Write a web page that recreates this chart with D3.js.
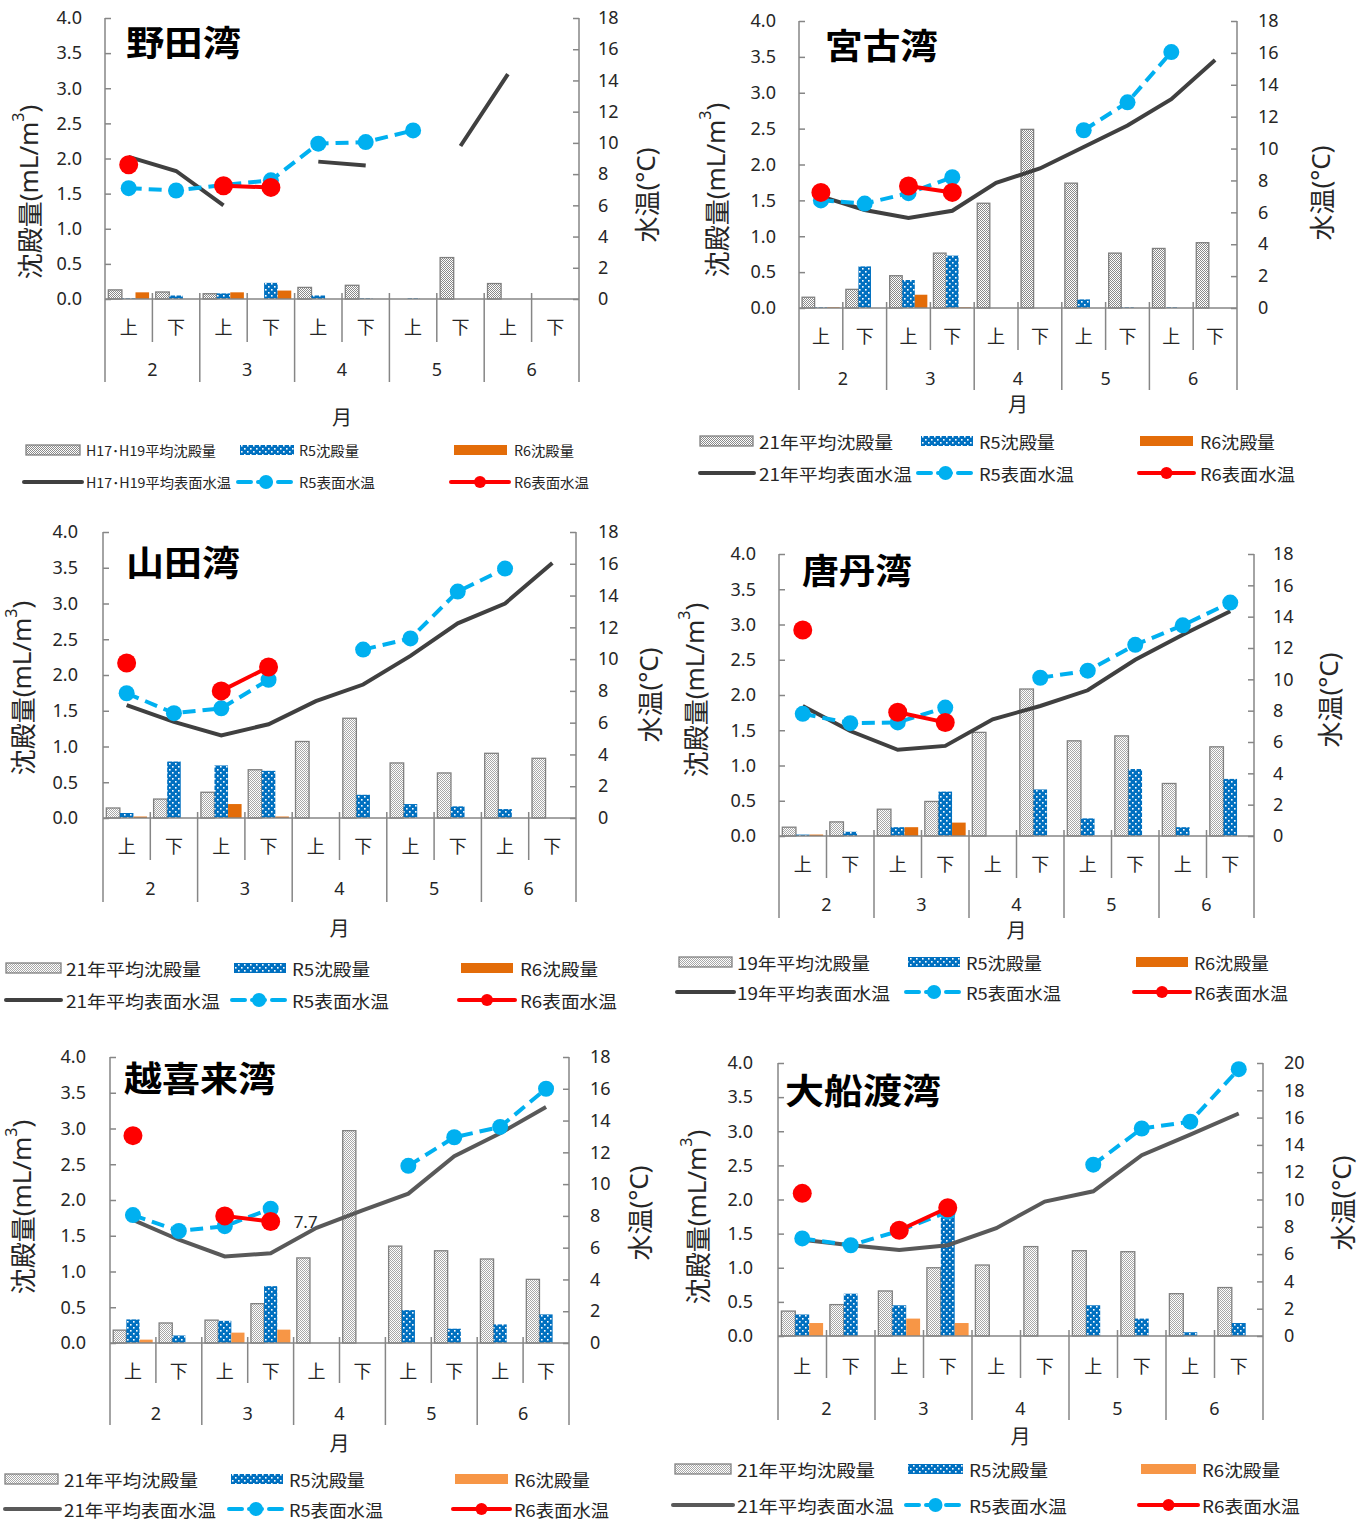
<!DOCTYPE html>
<html><head><meta charset="utf-8">
<script src="https://cdn.jsdelivr.net/npm/d3@7"></script>
<style>body{margin:0;background:#fff}svg{display:block}</style>
</head><body>
<svg id="c" width="1360" height="1521"></svg>
<script>
// ---------- categories & tick labels ----------
const halfLabels = ["上","下","上","下","上","下","上","下","上","下"];
const monthLabels = ["2","3","4","5","6"];
const leftTicks = [0,0.5,1.0,1.5,2.0,2.5,3.0,3.5,4.0];
const rightTicks18 = [0,2,4,6,8,10,12,14,16,18];
const rightTicks20 = [0,2,4,6,8,10,12,14,16,18,20];

// ---------- 野田湾 ----------
const nodaAvgSed = [0.13,0.10,0.075,0,0.165,0.195,0,0.59,0.22,0];
const nodaR5Sed  = [0.01,0.05,0.08,0.23,0.05,0.01,0.01,null,null,null];
const nodaR6Sed  = [0.095,0,0.095,0.12,null,null,null,null,null,null];
const nodaAvgTemp= [9.1,8.2,6.0,null,8.8,8.55,null,9.8,14.4,null];
const nodaR5Temp = [7.1,6.95,7.3,7.6,9.95,10.05,10.8,null,null,null];
const nodaR6Temp = [8.6,null,7.25,7.15,null,null,null,null,null,null];
const nodaLegend = ["H17･H19平均沈殿量","R5沈殿量","R6沈殿量","H17･H19平均表面水温","R5表面水温","R6表面水温"];

// ---------- 宮古湾 ----------
const miyakoAvgSed = [0.15,0.26,0.45,0.765,1.46,2.49,1.74,0.765,0.83,0.91];
const miyakoR5Sed  = [0.01,0.58,0.39,0.73,null,null,0.12,0.01,0.01,null];
const miyakoR6Sed  = [0.01,null,0.185,0.01,null,null,null,null,null,null];
const miyakoAvgTemp= [7.0,6.15,5.65,6.1,7.85,8.75,10.1,11.45,13.1,15.55];
const miyakoR5Temp = [6.75,6.55,7.2,8.2,null,null,11.15,12.9,16.05,null];
const miyakoR6Temp = [7.25,null,7.65,7.25,null,null,null,null,null,null];

// ---------- 山田湾 ----------
const yamadaAvgSed = [0.14,0.265,0.36,0.675,1.07,1.395,0.77,0.63,0.905,0.835];
const yamadaR5Sed  = [0.07,0.79,0.735,0.66,null,0.325,0.195,0.163,0.125,null];
const yamadaR6Sed  = [0.02,null,0.195,0.02,null,null,null,null,null,null];
const yamadaAvgTemp= [7.1,6.05,5.2,5.9,7.35,8.4,10.2,12.25,13.5,16.05];
const yamadaR5Temp = [7.85,6.6,6.9,8.7,null,10.6,11.3,14.25,15.7,null];
const yamadaR6Temp = [9.75,null,8.0,9.5,null,null,null,null,null,null];

// ---------- 唐丹湾 ----------
const toniAvgSed = [0.125,0.2,0.38,0.49,1.47,2.085,1.35,1.42,0.745,1.265];
const toniR5Sed  = [0.02,0.06,0.125,0.63,null,0.66,0.25,0.95,0.125,0.81];
const toniR6Sed  = [0.02,null,0.125,0.19,null,null,null,null,null,null];
const toniAvgTemp= [8.3,6.7,5.5,5.75,7.45,8.3,9.3,11.25,12.85,14.35];
const toniR5Temp = [7.8,7.2,7.25,8.2,null,10.1,10.55,12.2,13.45,14.9];
const toniR6Temp = [13.15,null,7.9,7.25,null,null,null,null,null,null];

// ---------- 越喜来湾 ----------
const okiraiAvgSed = [0.18,0.28,0.32,0.55,1.19,2.97,1.355,1.29,1.175,0.89];
const okiraiR5Sed  = [0.33,0.105,0.31,0.795,null,null,0.46,0.2,0.26,0.4];
const okiraiR6Sed  = [0.047,null,0.145,0.187,null,null,null,null,null,null];
const okiraiAvgTemp= [7.75,6.5,5.45,5.65,7.25,8.35,9.4,11.75,13.2,14.85];
const okiraiR5Temp = [8.05,7.05,7.35,8.45,null,null,11.15,12.95,13.6,16.0];
const okiraiR6Temp = [13.05,null,8.0,7.65,null,null,null,null,null,null];
const okiraiNote = "7.7";

// ---------- 大船渡湾 ----------
const ofunatoAvgSed = [0.365,0.46,0.66,1.0,1.04,1.31,1.25,1.235,0.62,0.71];
const ofunatoR5Sed  = [0.315,0.62,0.45,1.77,null,null,0.45,0.255,0.055,0.19];
const ofunatoR6Sed  = [0.19,null,0.255,0.19,null,null,null,null,null,null];
const ofunatoAvgTemp= [7.05,6.65,6.3,6.65,7.9,9.85,10.6,13.25,14.75,16.3];
const ofunatoR5Temp = [7.15,6.65,7.7,9.1,null,null,12.55,15.2,15.7,19.55];
const ofunatoR6Temp = [10.45,null,7.75,9.4,null,null,null,null,null,null];

const legend21 = ["21年平均沈殿量","R5沈殿量","R6沈殿量","21年平均表面水温","R5表面水温","R6表面水温"];
const legend19 = ["19年平均沈殿量","R5沈殿量","R6沈殿量","19年平均表面水温","R5表面水温","R6表面水温"];

// ---------- layout ----------
const panels = [
 {name:"野田湾", avgSed:nodaAvgSed, r5Sed:nodaR5Sed, r6Sed:nodaR6Sed, avgTemp:nodaAvgTemp, r5Temp:nodaR5Temp, r6Temp:nodaR6Temp, legend:nodaLegend,
  x0:105,x1:579,yTop:18,yBot:299,tMax:18,rTicks:rightTicks18,lblL:82,lblR:598,tl:[28,192],tr:[645,195],
  halfY:326,monthY:369,halfSep:342,monthSep:382,tsukiY:416,legY:[450,482],
  sw:[[[26,80],[240,294],[454,507]],[[24,82],[238,294],[451,509]]],tx:[86,299,514],tw:[[130,60,60],[145,76,75]],legFont:14,
  title:[126,40,115], r6c:"#E36C09", lc:"#404040", pat:"grayPatD"},
 {name:"宮古湾", avgSed:miyakoAvgSed, r5Sed:miyakoR5Sed, r6Sed:miyakoR6Sed, avgTemp:miyakoAvgTemp, r5Temp:miyakoR5Temp, r6Temp:miyakoR6Temp, legend:legend21,
  x0:799,x1:1237,yTop:21,yBot:308,tMax:18,rTicks:rightTicks18,lblL:776,lblR:1258,tl:[715,190],tr:[1320,193],
  halfY:335,monthY:378,halfSep:350,monthSep:390,tsukiY:403,legY:[441,473],
  sw:[[[700,753],[921,973],[1140,1193]],[[700,754],[918,973],[1139,1194]]],tx:[759,979,1200],tw:[[134,76,75],[153,95,95]],legFont:17,
  title:[825,43,113], r6c:"#E36C09", lc:"#404040", pat:"grayPatD"},
 {name:"山田湾", avgSed:yamadaAvgSed, r5Sed:yamadaR5Sed, r6Sed:yamadaR6Sed, avgTemp:yamadaAvgTemp, r5Temp:yamadaR5Temp, r6Temp:yamadaR6Temp, legend:legend21,
  x0:103,x1:576,yTop:532,yBot:818,tMax:18,rTicks:rightTicks18,lblL:78,lblR:598,tl:[21,688],tr:[648,695],
  halfY:845,monthY:888,halfSep:860,monthSep:902,tsukiY:927,legY:[968,1000],
  sw:[[[6,61],[234,286],[461,513]],[[6,61],[232,286],[459,515]]],tx:[66,292,520],tw:[[135,78,78],[154,97,97]],legFont:17,
  title:[126,560,114], r6c:"#E36C09", lc:"#404040", pat:"grayPatL"},
 {name:"唐丹湾", avgSed:toniAvgSed, r5Sed:toniR5Sed, r6Sed:toniR6Sed, avgTemp:toniAvgTemp, r5Temp:toniR5Temp, r6Temp:toniR6Temp, legend:legend19,
  x0:779,x1:1254,yTop:554,yBot:836,tMax:18,rTicks:rightTicks18,lblL:756,lblR:1273,tl:[694,690],tr:[1328,700],
  halfY:863,monthY:904,halfSep:878,monthSep:918,tsukiY:929,legY:[962,992],
  sw:[[[679,732],[908,960],[1136,1188]],[[677,734],[906,962],[1134,1190]]],tx:[737,966,1194],tw:[[133,76,75],[153,95,94]],legFont:17,
  title:[802,568,110], r6c:"#E36C09", lc:"#404040", pat:"grayPatL"},
 {name:"越喜来湾", avgSed:okiraiAvgSed, r5Sed:okiraiR5Sed, r6Sed:okiraiR6Sed, avgTemp:okiraiAvgTemp, r5Temp:okiraiR5Temp, r6Temp:okiraiR6Temp, legend:legend21,
  x0:110,x1:569,yTop:1057,yBot:1343,tMax:18,rTicks:rightTicks18,lblL:86,lblR:590,tl:[21,1207],tr:[638,1213],
  halfY:1370,monthY:1413,halfSep:1383,monthSep:1425,tsukiY:1442,legY:[1479,1509],
  sw:[[[5,58],[231,283],[455,508]],[[5,60],[229,283],[453,510]]],tx:[64,289,514],tw:[[134,76,76],[152,94,95]],legFont:17,
  title:[124,1076,152], r6c:"#F79646", lc:"#595959", pat:"grayPatL", note:okiraiNote, noteIdx:3},
 {name:"大船渡湾", avgSed:ofunatoAvgSed, r5Sed:ofunatoR5Sed, r6Sed:ofunatoR6Sed, avgTemp:ofunatoAvgTemp, r5Temp:ofunatoR5Temp, r6Temp:ofunatoR6Temp, legend:legend21,
  x0:778,x1:1263,yTop:1063,yBot:1336,tMax:20,rTicks:rightTicks20,lblL:753,lblR:1284,tl:[696,1217],tr:[1341,1203],
  halfY:1365,monthY:1408,halfSep:1378,monthSep:1420,tsukiY:1435,legY:[1469,1505],
  sw:[[[675,731],[908,963],[1141,1196]],[[673,733],[906,965],[1139,1198]]],tx:[737,969,1202],tw:[[138,79,78],[157,98,98]],legFont:17,
  title:[785,1088,156], r6c:"#F79646", lc:"#595959", pat:"grayPatL"}
];

const svg = d3.select("#c");
const defs = svg.append("defs");
function checker(id, dark){
  const p = defs.append("pattern").attr("id",id).attr("patternUnits","userSpaceOnUse").attr("width",2).attr("height",2);
  p.append("rect").attr("width",2).attr("height",2).attr("fill","#ffffff");
  p.append("rect").attr("x",0).attr("y",0).attr("width",1).attr("height",1).attr("fill",dark);
  p.append("rect").attr("x",1).attr("y",1).attr("width",1).attr("height",1).attr("fill",dark);
}
checker("grayPatD","#8a8a8a");
checker("grayPatL","#a8a8a8");
const pb = defs.append("pattern").attr("id","bluePat").attr("patternUnits","userSpaceOnUse").attr("width",6).attr("height",6);
pb.append("rect").attr("width",6).attr("height",6).attr("fill","#0070C0");
pb.append("rect").attr("x",1).attr("y",1).attr("width",1.6).attr("height",1.6).attr("fill","#ffffff");
pb.append("rect").attr("x",4).attr("y",4).attr("width",1.6).attr("height",1.6).attr("fill","#ffffff");

const AX = "#868686", TXT = "#262626";
const LATIN = "'Noto Sans', 'DejaVu Sans', sans-serif";
const CJK = "'Noto Sans CJK JP', 'Noto Sans', sans-serif";
const BLUE = "#00B0F0", RED = "#FF0000";

function drawPanel(p){
  const g = svg.append("g");
  const x = d3.scaleBand().domain(d3.range(10)).range([p.x0,p.x1]);
  const yL = d3.scaleLinear().domain([0,4]).range([p.yBot,p.yTop]);
  const yR = d3.scaleLinear().domain([0,p.tMax]).range([p.yBot,p.yTop]);
  const slot = x.bandwidth(), gw = slot*0.86;
  const xs = d3.scaleBand().domain(["avg","r5","r6"]).range([0,gw]);
  const bw = xs.bandwidth();
  const grayFill = `url(#${p.pat})`;

  // bars
  const series = [
    {k:"avg", v:p.avgSed, fill:grayFill, stroke:"#808080"},
    {k:"r5", v:p.r5Sed, fill:"url(#bluePat)", stroke:"none"},
    {k:"r6", v:p.r6Sed, fill:p.r6c, stroke:"none"}];
  series.forEach(s=>{
    g.selectAll(null).data(s.v.map((v,i)=>({v,i})).filter(d=>d.v!=null && d.v>0)).enter()
     .append("rect")
     .attr("x",d=>x(d.i)+(slot-gw)/2+xs(s.k))
     .attr("y",d=>yL(d.v))
     .attr("width",bw)
     .attr("height",d=>p.yBot-yL(d.v))
     .attr("fill",s.fill).attr("stroke",s.stroke).attr("stroke-width",1.3);
  });

  // axes
  const la = d3.axisLeft(yL).tickValues(leftTicks).tickFormat(d3.format(".1f")).tickSizeInner(-6).tickSizeOuter(0).tickPadding(p.x0-p.lblL);
  const lg = g.append("g").attr("transform",`translate(${p.x0},0)`).call(la);
  const ra = d3.axisRight(yR).tickValues(p.rTicks).tickFormat(d3.format("d")).tickSizeInner(-6).tickSizeOuter(0).tickPadding(p.lblR-p.x1);
  const rg = g.append("g").attr("transform",`translate(${p.x1},0)`).call(ra);
  [lg,rg].forEach(a=>{
    a.select(".domain").remove();
    a.selectAll("line").attr("stroke",AX).attr("stroke-width",1.5);
    a.selectAll("text").attr("font-family",LATIN).attr("font-size",18).attr("fill",TXT);
  });
  [p.x0,p.x1].forEach(xx=>g.append("line").attr("x1",xx).attr("x2",xx).attr("y1",p.yTop).attr("y2",p.monthSep).attr("stroke",AX).attr("stroke-width",1.5));
  g.append("line").attr("x1",p.x0).attr("x2",p.x1).attr("y1",p.yBot).attr("y2",p.yBot).attr("stroke",AX).attr("stroke-width",1.5);
  d3.range(1,10).forEach(i=>{
    const xx = x(i);
    g.append("line").attr("x1",xx).attr("x2",xx).attr("y1",p.yBot-6).attr("y2",i%2===0?p.monthSep:p.halfSep).attr("stroke",AX).attr("stroke-width",1.5);
  });
  g.selectAll(null).data(halfLabels).enter().append("text")
   .attr("x",(d,i)=>x(i)+slot/2).attr("y",p.halfY).attr("text-anchor","middle").attr("dominant-baseline","central")
   .attr("font-family",CJK).attr("font-size",18).attr("fill",TXT).text(d=>d);
  g.selectAll(null).data(monthLabels).enter().append("text")
   .attr("x",(d,i)=>x(i*2)+slot).attr("y",p.monthY).attr("text-anchor","middle").attr("dominant-baseline","central")
   .attr("font-family",LATIN).attr("font-size",18).attr("fill",TXT).text(d=>d);
  g.append("text").attr("x",(p.x0+p.x1)/2).attr("y",p.tsukiY).attr("text-anchor","middle").attr("dominant-baseline","central")
   .attr("font-family",CJK).attr("font-size",20).attr("fill",TXT).text("月");

  // axis titles
  const t1 = g.append("text").attr("transform",`translate(${p.tl[0]},${p.tl[1]}) rotate(-90)`)
   .attr("text-anchor","middle").attr("dominant-baseline","central").attr("font-size",26).attr("fill",TXT).attr("font-family",CJK);
  t1.append("tspan").text("沈殿量");
  t1.append("tspan").attr("font-family",LATIN).text("(mL/m");
  t1.append("tspan").attr("font-family",LATIN).attr("font-size",16).attr("dy",-10).text("3");
  t1.append("tspan").attr("font-family",LATIN).attr("dy",10).text(")");
  const t2 = g.append("text").attr("transform",`translate(${p.tr[0]},${p.tr[1]}) rotate(-90)`)
   .attr("text-anchor","middle").attr("dominant-baseline","central").attr("font-size",26).attr("fill",TXT).attr("font-family",CJK);
  t2.append("tspan").text("水温");
  t2.append("tspan").attr("font-family",LATIN).text("(°C)");

  // lines
  const cx = i=>x(i)+slot/2;
  const line = d3.line().defined(d=>d.v!=null).x(d=>cx(d.i)).y(d=>yR(d.v));
  const pts = arr=>arr.map((v,i)=>({v,i}));
  g.append("path").datum(pts(p.avgTemp)).attr("d",line).attr("fill","none").attr("stroke",p.lc).attr("stroke-width",4);
  g.append("path").datum(pts(p.r5Temp)).attr("d",line).attr("fill","none").attr("stroke",BLUE).attr("stroke-width",4).attr("stroke-dasharray","13,7");
  g.selectAll(null).data(pts(p.r5Temp).filter(d=>d.v!=null)).enter().append("circle")
   .attr("cx",d=>cx(d.i)).attr("cy",d=>yR(d.v)).attr("r",8).attr("fill",BLUE);
  g.append("path").datum(pts(p.r6Temp)).attr("d",line).attr("fill","none").attr("stroke",RED).attr("stroke-width",4);
  g.selectAll(null).data(pts(p.r6Temp).filter(d=>d.v!=null)).enter().append("circle")
   .attr("cx",d=>cx(d.i)).attr("cy",d=>yR(d.v)).attr("r",9.5).attr("fill",RED);
  if(p.note){
    g.append("text").attr("x",cx(p.noteIdx)+23).attr("y",yR(p.r6Temp[p.noteIdx])).attr("dominant-baseline","central")
     .attr("font-family",LATIN).attr("font-size",17).attr("fill",TXT).text(p.note);
  }

  // title
  g.append("text").attr("x",p.title[0]).attr("y",p.title[1]).attr("dominant-baseline","central")
   .attr("font-family",CJK).attr("font-weight",700).attr("font-size",35).attr("fill","#000")
   .attr("textLength",p.title[2]).attr("lengthAdjust","spacingAndGlyphs").text(p.name);

  // legend
  p.legend.forEach((lab,k)=>{
    const r = k<3?0:1, c = k%3, yy = p.legY[r], s = p.sw[r][c];
    if(r===0){
      const fills = [grayFill,"url(#bluePat)",p.r6c];
      g.append("rect").attr("x",s[0]).attr("y",yy-5).attr("width",s[1]-s[0]).attr("height",10)
       .attr("fill",fills[c]).attr("stroke",c===0?"#808080":"none").attr("stroke-width",1.3);
    } else {
      const cols = [p.lc,BLUE,RED];
      g.append("line").attr("x1",s[0]).attr("x2",s[1]).attr("y1",yy).attr("y2",yy).attr("stroke",cols[c]).attr("stroke-width",4)
       .attr("stroke-linecap","round").attr("stroke-dasharray",c===1?"13,7":null);
      if(c>0) g.append("circle").attr("cx",(s[0]+s[1])/2).attr("cy",yy).attr("r",c===1?7:6).attr("fill",cols[c]);
    }
    g.append("text").attr("x",p.tx[c]).attr("y",yy).attr("dominant-baseline","central")
     .attr("font-family",CJK).attr("font-size",p.legFont).attr("fill",TXT)
     .attr("textLength",p.tw[r][c]).attr("lengthAdjust","spacingAndGlyphs").text(lab);
  });
}
panels.forEach(drawPanel);
</script>
</body></html>
